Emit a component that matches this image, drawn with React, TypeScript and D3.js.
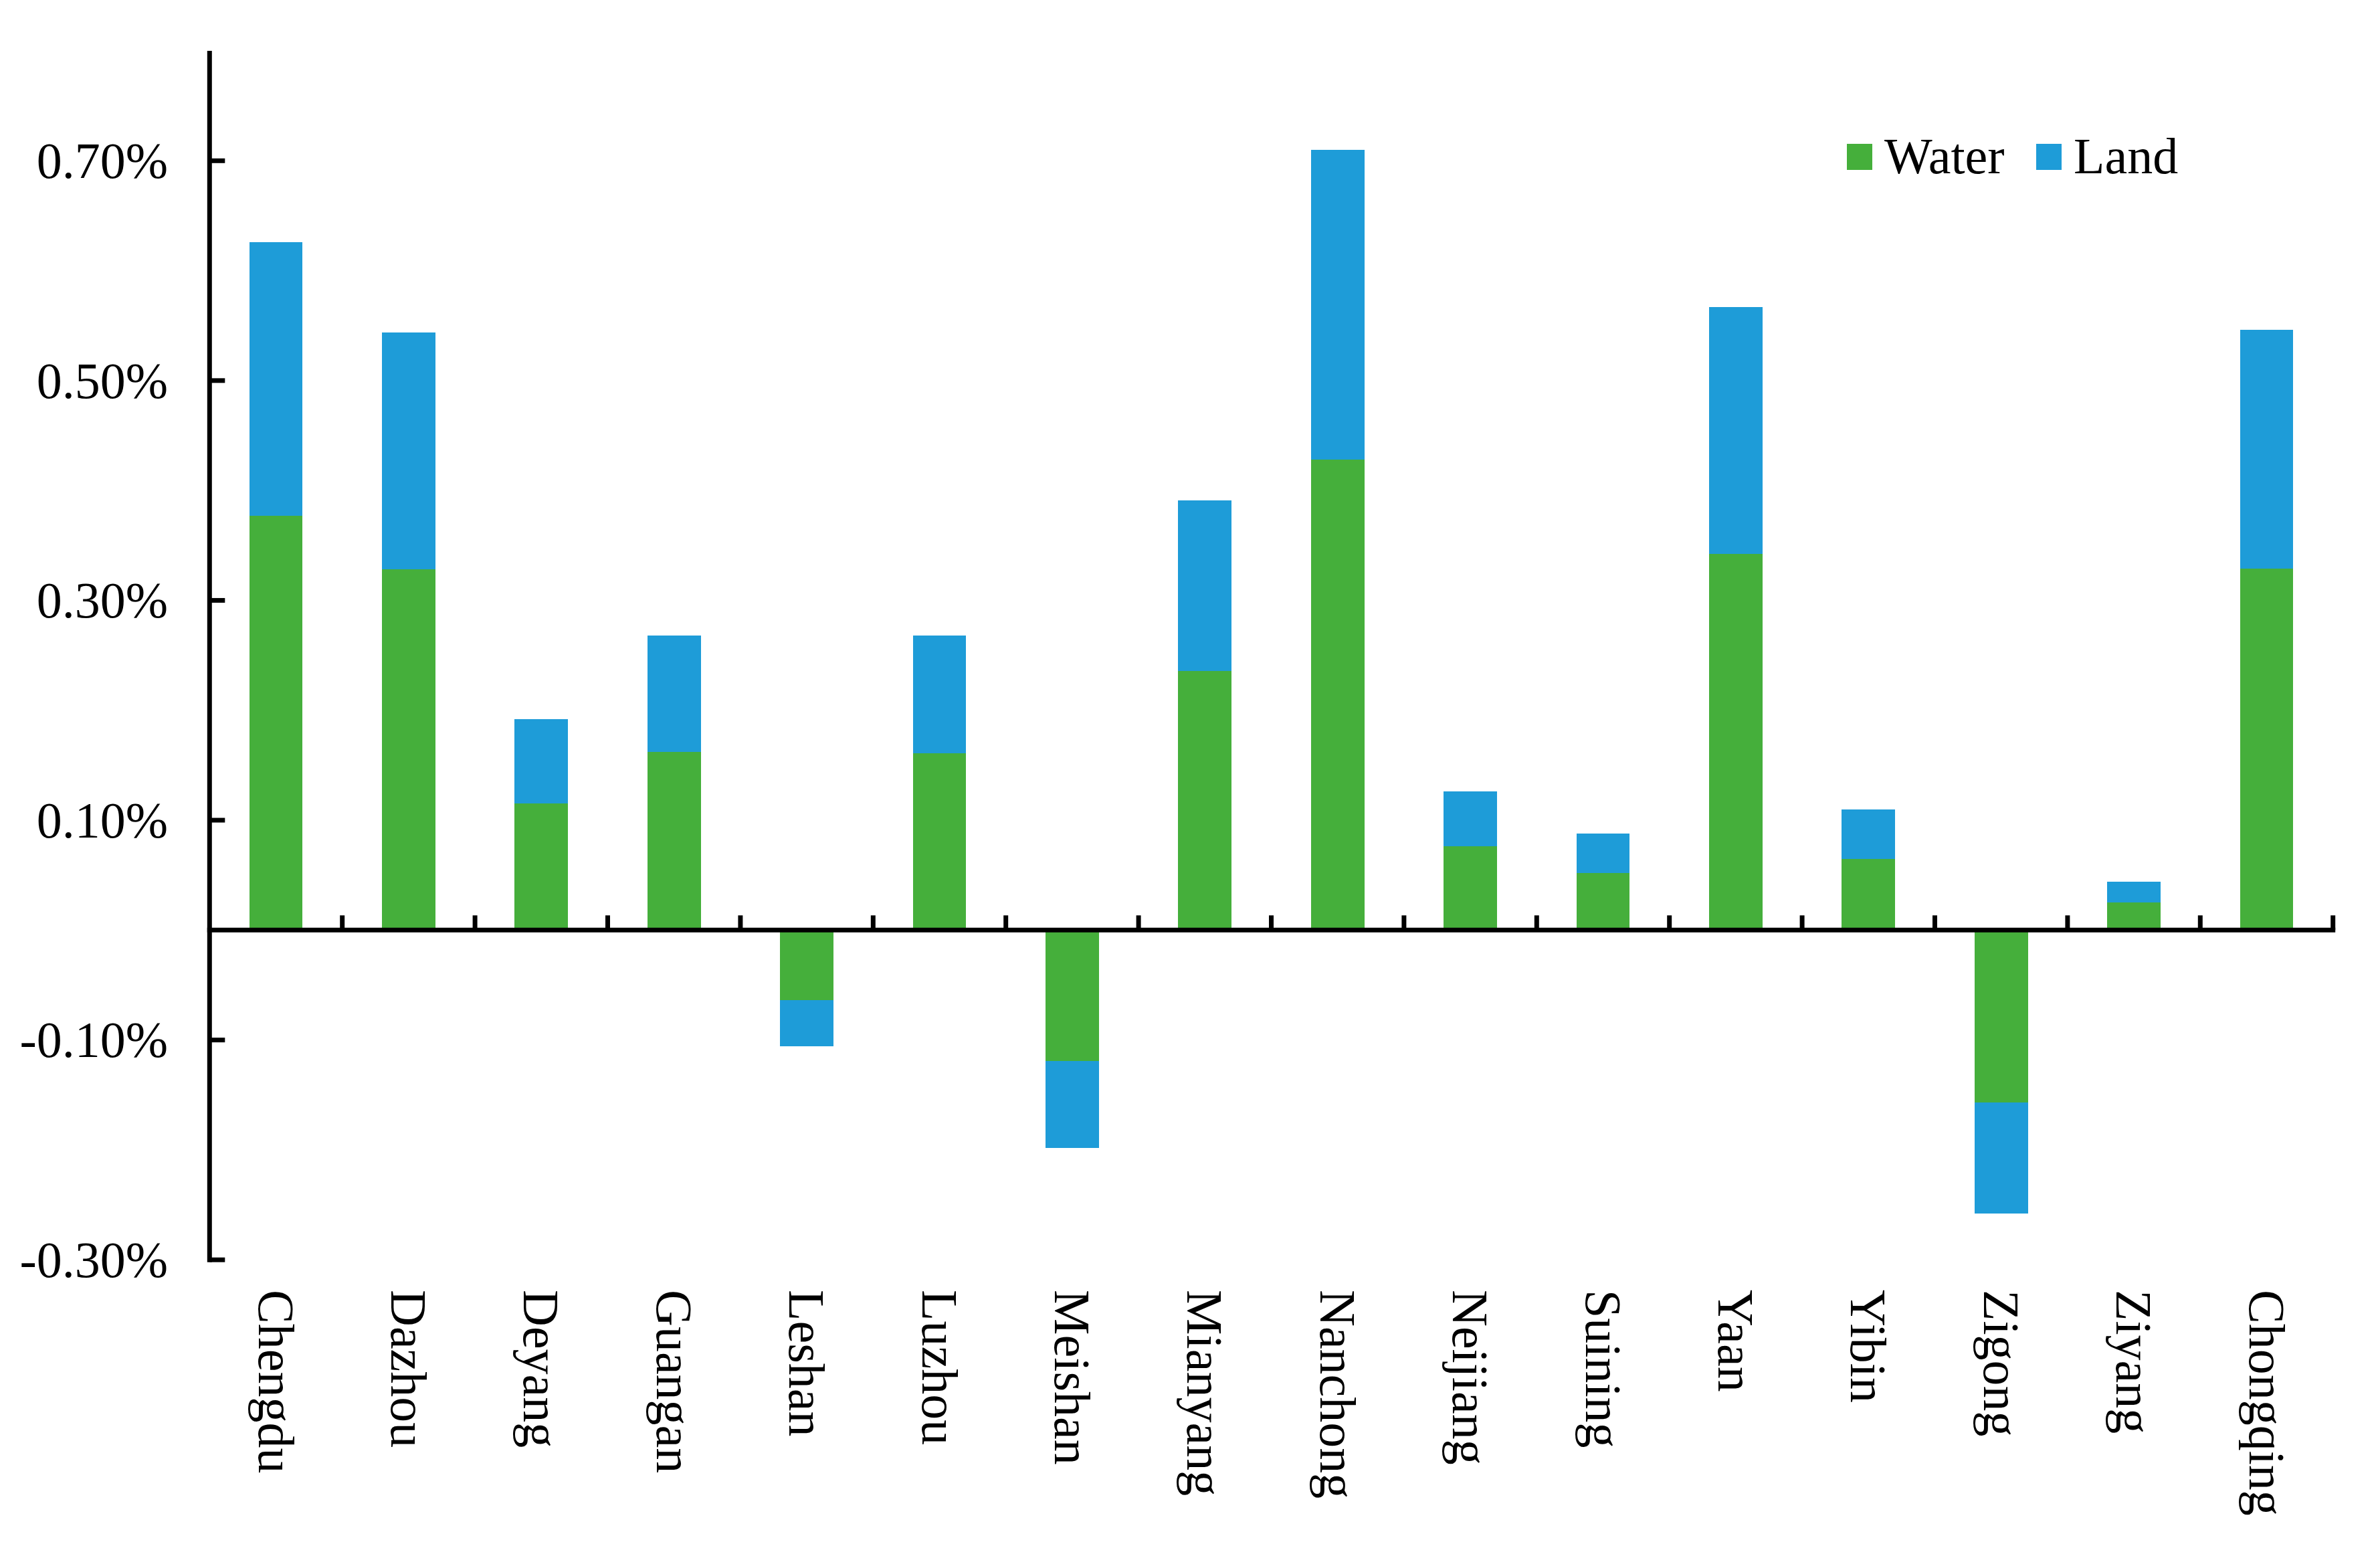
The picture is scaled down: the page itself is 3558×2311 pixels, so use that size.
import React from "react";
import * as d3 from "d3";

const cities = ["Chengdu","Dazhou","Deyang","Guangan","Leshan","Luzhou","Meishan","Mianyang","Nanchong","Neijiang","Suining","Yaan","Yibin","Zigong","Ziyang","Chongqing"];
const water = [0.377,0.328,0.115,0.162,-0.064,0.161,-0.119,0.236,0.428,0.076,0.052,0.342,0.065,-0.157,0.025,0.329];
const land = [0.249,0.216,0.077,0.106,-0.042,0.107,-0.079,0.155,0.282,0.050,0.036,0.225,0.045,-0.101,0.019,0.217];
const yTicks = [-0.3,-0.1,0.1,0.3,0.5,0.7];
const seriesNames = ["Water","Land"];
const colors = ["#45AF3B","#1E9CD8"];

const W = 3558, H = 2311;
const FONT = "'Times New Roman', 'Liberation Serif', serif";

export default function App() {
  const x = d3.scaleBand<string>().domain(cities).range([313.3, 3487.7]).paddingInner(0.597).paddingOuter(0.2985);
  const y = d3.scaleLinear().domain([-0.3, 0.8]).range([1883.2, 76]);
  const rows = cities.map((c, i) => ({ city: c, Water: water[i], Land: land[i] }));
  const stack = d3.stack<any>().keys(seriesNames).offset(d3.stackOffsetDiverging);
  const series = stack(rows);
  const step = x.step();
  const x0 = x.range()[0];
  const x1 = x.range()[1];
  const y0 = y(0);
  const fmt = (v: number) => (v < 0 ? "-" : "") + Math.abs(v).toFixed(2) + "%";
  const sw = 7;
  const legendX = [2761, 3044];

  return (
    <svg width={W} height={H} style={{ position: "absolute", left: 0, top: 0, background: "#fff" }} fontFamily={FONT}>
      <rect x={0} y={0} width={W} height={H} fill="#fff" />
      {series.map((s, si) => (
        <g key={s.key} fill={colors[si]} shapeRendering="crispEdges">
          {s.map((d, i) => {
            const top = y(Math.max(d[0], d[1]));
            const bot = y(Math.min(d[0], d[1]));
            return <rect key={i} x={x(cities[i])} y={top} width={x.bandwidth()} height={bot - top} />;
          })}
        </g>
      ))}
      {/* y axis */}
      <line x1={x0} x2={x0} y1={y(0.8)} y2={y(-0.3) + sw / 2} stroke="#000" strokeWidth={sw} />
      {yTicks.map((t) => (
        <g key={t}>
          <line x1={x0} x2={x0 + 23} y1={y(t)} y2={y(t)} stroke="#000" strokeWidth={sw} />
          <text x={251} y={y(t)} dy="0.34em" textAnchor="end" fontSize={76} fill="#000">{fmt(t)}</text>
        </g>
      ))}
      {/* x axis */}
      <line x1={x0 - sw / 2} x2={x1 + sw / 2} y1={y0} y2={y0} stroke="#000" strokeWidth={sw} />
      {cities.map((c, i) => (
        <line key={"t" + c} x1={x0 + step * (i + 1)} x2={x0 + step * (i + 1)} y1={y0} y2={y0 - 22} stroke="#000" strokeWidth={sw} />
      ))}
      {cities.map((c) => (
        <text key={"l" + c} transform={`translate(${(x(c) as number) + x.bandwidth() / 2},1928) rotate(90)`} dy="0.34em" fontSize={76} fill="#000">{c}</text>
      ))}
      {/* legend */}
      {seriesNames.map((n, i) => (
        <g key={n}>
          <rect x={legendX[i]} y={215} width={38} height={39} fill={colors[i]} />
          <text x={legendX[i] + 56} y={259} fontSize={76} fill="#000">{n}</text>
        </g>
      ))}
    </svg>
  );
}
